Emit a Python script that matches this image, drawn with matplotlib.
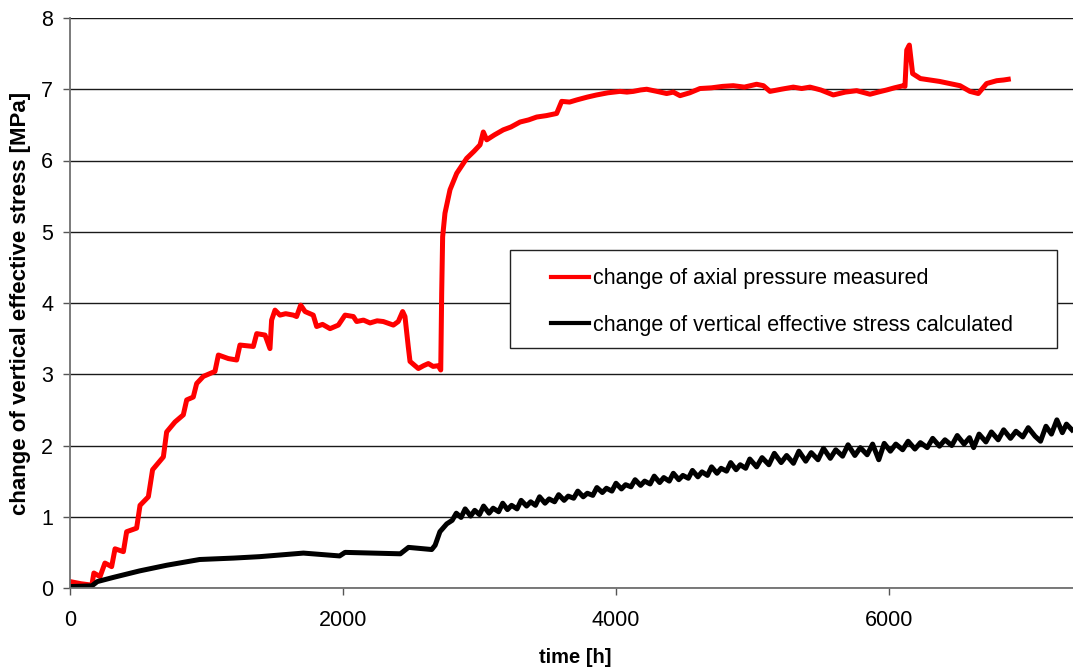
import matplotlib
matplotlib.use("Agg")
import matplotlib.pyplot as plt
from matplotlib.patches import Rectangle

plt.rcParams["font.family"] = ["Liberation Sans", "DejaVu Sans"]

# measured axial pressure change [MPa] vs time [h]
red_t = [0, 80, 160, 175, 220, 256, 305, 330, 391, 415, 488, 513, 574, 605, 684,
         708, 769, 830, 855, 903, 928, 977, 1062, 1087, 1160, 1221, 1245, 1343,
         1368, 1429, 1465, 1477, 1502, 1538, 1580, 1636, 1660, 1690, 1722, 1782,
         1807, 1850, 1905, 1966, 2015, 2076, 2100, 2150, 2198, 2250, 2295, 2369,
         2405, 2437, 2454, 2478, 2491, 2552, 2590, 2625, 2660, 2698, 2716, 2723,
         2730, 2747, 2784, 2833, 2906, 2960, 3004, 3028, 3053, 3110, 3174, 3230,
         3297, 3360, 3419, 3490, 3565, 3602, 3660, 3712, 3790, 3858, 3940, 4029,
         4080, 4127, 4180, 4225, 4300, 4371, 4420, 4469, 4540, 4615, 4700, 4780,
         4859, 4940, 5030, 5080, 5128, 5210, 5299, 5360, 5421, 5500, 5592, 5680,
         5763, 5861, 5920, 5983, 6040, 6105, 6117, 6130, 6149, 6173, 6230, 6300,
         6370, 6447, 6520, 6593, 6654, 6680, 6715, 6789, 6840, 6874]
red_v = [0.09, 0.06, 0.04, 0.21, 0.16, 0.35, 0.30, 0.55, 0.51, 0.79, 0.84, 1.16,
         1.28, 1.66, 1.84, 2.19, 2.33, 2.43, 2.64, 2.68, 2.87, 2.97, 3.04, 3.27,
         3.22, 3.20, 3.41, 3.39, 3.57, 3.55, 3.36, 3.76, 3.90, 3.83, 3.85, 3.83,
         3.81, 3.97, 3.88, 3.83, 3.67, 3.70, 3.64, 3.69, 3.83, 3.81, 3.74, 3.76,
         3.72, 3.75, 3.74, 3.69, 3.74, 3.88, 3.81, 3.39, 3.18, 3.08, 3.12, 3.15,
         3.11, 3.12, 3.06, 4.14, 4.93, 5.26, 5.59, 5.82, 6.03, 6.13, 6.22, 6.40,
         6.29, 6.36, 6.43, 6.47, 6.54, 6.57, 6.61, 6.63, 6.66, 6.83, 6.82, 6.85,
         6.89, 6.92, 6.95, 6.97, 6.96, 6.97, 6.99, 7.00, 6.97, 6.94, 6.96, 6.91,
         6.95, 7.01, 7.02, 7.04, 7.05, 7.03, 7.07, 7.05, 6.97, 7.00, 7.03, 7.01,
         7.03, 6.99, 6.92, 6.96, 6.98, 6.93, 6.96, 6.99, 7.02, 7.05, 7.04, 7.55,
         7.62, 7.22, 7.15, 7.13, 7.11, 7.08, 7.05, 6.97, 6.94, 7.00, 7.08, 7.12,
         7.13, 7.14]

# calculated vertical effective stress change [MPa]
black_t = [0, 160, 200, 320, 510, 710, 950, 1200, 1390, 1710, 1975, 2015, 2420,
           2480, 2650, 2675, 2710, 2760,
           2800, 2830, 2865, 2895, 2935, 2965, 3000, 3030, 3070, 3100, 3140, 3170,
           3205, 3235, 3275, 3305, 3345, 3375, 3410, 3440, 3480, 3510, 3550, 3580,
           3620, 3650, 3690, 3720, 3760, 3790, 3830, 3860, 3900, 3930, 3970, 4000,
           4040, 4070, 4110, 4140, 4180, 4210, 4250, 4280, 4320, 4350, 4390, 4420,
           4460, 4490, 4530, 4560, 4600, 4630, 4670, 4700, 4740, 4770, 4810, 4840,
           4880, 4910, 4950, 4980,
           5030, 5070, 5120, 5160, 5210, 5250, 5300, 5340, 5390, 5430, 5480, 5520,
           5570, 5610, 5660, 5700, 5750, 5790, 5840, 5880, 5925, 5965, 6010, 6050,
           6100, 6140, 6190, 6230, 6280, 6320, 6370, 6410, 6460, 6500, 6550, 6590,
           6620, 6660, 6710, 6750, 6800, 6840, 6890, 6930, 6980, 7020, 7070, 7110,
           7150, 7190, 7230, 7270, 7300, 7340]
black_v = [0.02, 0.03, 0.09, 0.15, 0.24, 0.32, 0.40, 0.42, 0.44, 0.49, 0.45, 0.50,
           0.48, 0.57, 0.54, 0.60, 0.79, 0.90,
           0.95, 1.05, 0.99, 1.11, 1.01, 1.09, 1.03, 1.15, 1.05, 1.12, 1.07, 1.19,
           1.10, 1.16, 1.11, 1.23, 1.15, 1.21, 1.16, 1.28, 1.19, 1.25, 1.21, 1.31,
           1.23, 1.29, 1.26, 1.36, 1.28, 1.33, 1.30, 1.41, 1.34, 1.40, 1.36, 1.47,
           1.39, 1.45, 1.42, 1.52, 1.44, 1.50, 1.46, 1.57, 1.48, 1.55, 1.50, 1.61,
           1.52, 1.58, 1.54, 1.65, 1.56, 1.63, 1.58, 1.70, 1.61, 1.68, 1.64, 1.76,
           1.66, 1.73, 1.68, 1.81,
           1.70, 1.83, 1.73, 1.89, 1.76, 1.86, 1.75, 1.92, 1.78, 1.90, 1.80, 1.96,
           1.82, 1.94, 1.85, 2.01, 1.86, 1.97, 1.87, 2.02, 1.80, 2.03, 1.92, 2.02,
           1.94, 2.06, 1.95, 2.04, 1.97, 2.10, 1.99, 2.08, 2.00, 2.14, 2.02, 2.11,
           1.97, 2.16, 2.05, 2.19, 2.08, 2.22, 2.10, 2.20, 2.12, 2.25, 2.13, 2.06,
           2.27, 2.16, 2.36, 2.18, 2.30, 2.22]

x_ticks = [0, 2000, 4000, 6000]
y_ticks = [0, 1, 2, 3, 4, 5, 6, 7, 8]

fig = plt.figure(figsize=(10.73, 6.69), dpi=100)
ax = fig.add_axes([70 / 1073, 1 - 588 / 669, 1003 / 1073, 570 / 669])

ax.plot(red_t, red_v, color="#ff0000", lw=3.6, solid_joinstyle="round",
        label="change of axial pressure measured", zorder=3)
ax.plot(black_t, black_v, color="#000000", lw=3.6, solid_joinstyle="round",
        label="change of vertical effective stress calculated", zorder=3)

ax.set_xlim(0, 7348)
ax.set_ylim(0, 8)
ax.set_xticks(x_ticks)
ax.set_yticks(y_ticks)
ax.yaxis.grid(True, color="#1a1a1a", lw=1.0)
ax.set_axisbelow(True)

for side in ("top", "right"):
    ax.spines[side].set_visible(False)
for side in ("left", "bottom"):
    ax.spines[side].set_color("#707070")
    ax.spines[side].set_linewidth(1.3)
    ax.spines[side].set_zorder(4)

ax.tick_params(axis="x", direction="out", length=5, width=1, color="#555555",
               labelsize=15.5, pad=11)
ax.tick_params(axis="y", direction="out", length=5, width=1, color="#555555",
               labelsize=15.5, pad=7)

ax.set_xlabel("time [h]", fontsize=14.5, fontweight="bold", va="top")
ax.xaxis.set_label_coords(0.504, -0.105)
ax.set_ylabel("change of vertical effective stress [MPa]", fontsize=16,
              fontweight="bold")
ax.yaxis.set_label_coords(-0.039, 0.5)

# legend box with wide right margin
ax.add_patch(Rectangle((440 / 1003, 240 / 570), 547 / 1003, 98 / 570,
                       transform=ax.transAxes, facecolor="white",
                       edgecolor="#222222", lw=1.0, zorder=5))
leg = ax.legend(loc="center left", bbox_to_anchor=(481 / 1003, 286 / 570),
                frameon=False, fontsize=15.5, handlelength=1.75,
                handletextpad=0.22, labelspacing=1.2, borderpad=0,
                borderaxespad=0)
leg.set_zorder(6)
for line in leg.get_lines():
    line.set_linewidth(3.0)

fig.savefig("out.png", dpi=100)
